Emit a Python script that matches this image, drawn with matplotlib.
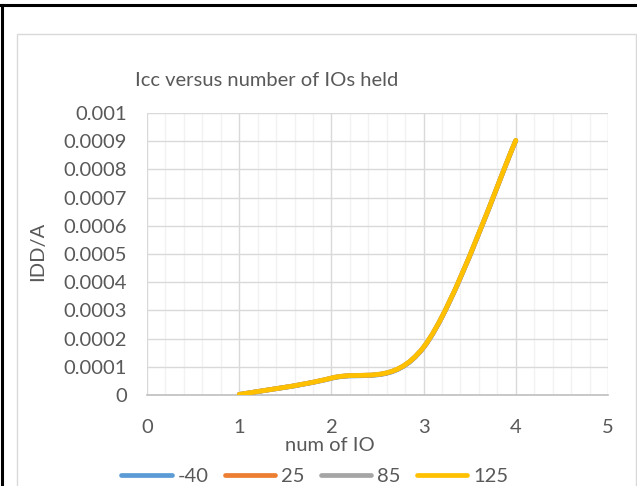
import matplotlib
matplotlib.use("Agg")
import matplotlib.pyplot as plt
from matplotlib.path import Path
from matplotlib.patches import PathPatch, Rectangle
from matplotlib.lines import Line2D
from matplotlib.ticker import MultipleLocator, FuncFormatter
import numpy as np

plt.rcParams['font.family'] = ['Lato', 'DejaVu Sans']

# data (all four temperatures sit on top of each other)
num_io = [1, 2, 3, 4]
idd_m40 = [0.000002, 0.000059, 0.000168, 0.000902]
idd_25 = [0.000002, 0.000060, 0.000169, 0.000902]
idd_85 = [0.000002, 0.000060, 0.000170, 0.000903]
idd_125 = [0.000002, 0.000060, 0.000170, 0.000903]
series_names = ['-40', '25', '85', '125']
series_colors = ['#5B9BD5', '#ED7D31', '#A5A5A5', '#FFC000']

TEXT = '#595959'
FS = 14.5


def smooth_path(xs, ys):
    # excel style smoothed line: cubic bezier through every point
    p = np.column_stack([xs, ys]).astype(float)
    ext = np.vstack([p[0], p, p[-1]])
    verts = [p[0]]
    codes = [Path.MOVETO]
    for i in range(len(p) - 1):
        c1 = ext[i + 1] + (ext[i + 2] - ext[i]) / 6.0
        c2 = ext[i + 2] - (ext[i + 3] - ext[i + 1]) / 6.0
        verts += [c1, c2, p[i + 1]]
        codes += [Path.CURVE4] * 3
    return Path(verts, codes)


fig = plt.figure(figsize=(6.37, 4.86), dpi=100)

# outer table border and chart area frame
fig.add_artist(Line2D([0, 1], [1 - 5 / 486, 1 - 5 / 486], color='black', lw=2.2))
fig.add_artist(Line2D([2 / 637, 2 / 637], [0, 1 - 5 / 486], color='black', lw=2.2))
fig.add_artist(Rectangle((17 / 637, -0.05), 619 / 637, 1.05 - 34 / 486, fill=False,
                         edgecolor='#D9D9D9', lw=1.0))

ax = fig.add_axes([147 / 637, 1 - 395 / 486, 461 / 637, 282 / 486])

all_series = [idd_m40, idd_25, idd_85, idd_125]
for vals, col in zip(all_series, series_colors):
    ax.add_patch(PathPatch(smooth_path(num_io, vals), fill=False, edgecolor=col,
                           lw=3.4, capstyle='round', joinstyle='round', zorder=3))

ax.set_xlim(0, 5)
ax.set_ylim(0, 0.001)
ax.xaxis.set_major_locator(MultipleLocator(1))
ax.xaxis.set_minor_locator(MultipleLocator(0.2))
ax.yaxis.set_major_locator(MultipleLocator(0.0001))
ax.yaxis.set_major_formatter(FuncFormatter(lambda v, pos: '0' if abs(v) < 1e-12 else f'{v:.4f}'.rstrip('0')))

ax.grid(which='major', color='#D9D9D9', lw=1.0, zorder=1)
ax.grid(which='minor', axis='x', color='#F2F2F2', lw=1.0, zorder=0)
ax.set_axisbelow(True)
for s in ['top', 'right', 'left']:
    ax.spines[s].set_visible(False)
ax.spines['bottom'].set_color('#BFBFBF')
ax.spines['bottom'].set_linewidth(1.2)
ax.tick_params(which='both', length=0, colors=TEXT, labelsize=FS)
ax.tick_params(axis='x', pad=17)
ax.tick_params(axis='y', pad=14.5)

fig.text(267 / 637, 1 - 81 / 486, 'Icc versus number of IOs held', fontsize=14.5,
         color=TEXT, ha='center', va='center')
ax.set_xlabel('num of IO', fontsize=FS, color=TEXT)
ax.xaxis.set_label_coords((330 - 147) / 461, -42 / 282)
ax.set_ylabel('IDD/A', fontsize=FS, color=TEXT)
ax.yaxis.set_label_coords((46 - 147) / 461, (395 - 251) / 282)

handles = [Line2D([], [], color=c, lw=3.4, solid_capstyle='round') for c in series_colors]
fig.legend(handles, series_names, loc='center', bbox_to_anchor=(315 / 637, 1 - 476 / 486),
           ncol=4, frameon=False, fontsize=FS, handlelength=2.5, handletextpad=0.3,
           columnspacing=0.8, labelcolor=TEXT, borderaxespad=0)

fig.savefig('out.png', dpi=100)
